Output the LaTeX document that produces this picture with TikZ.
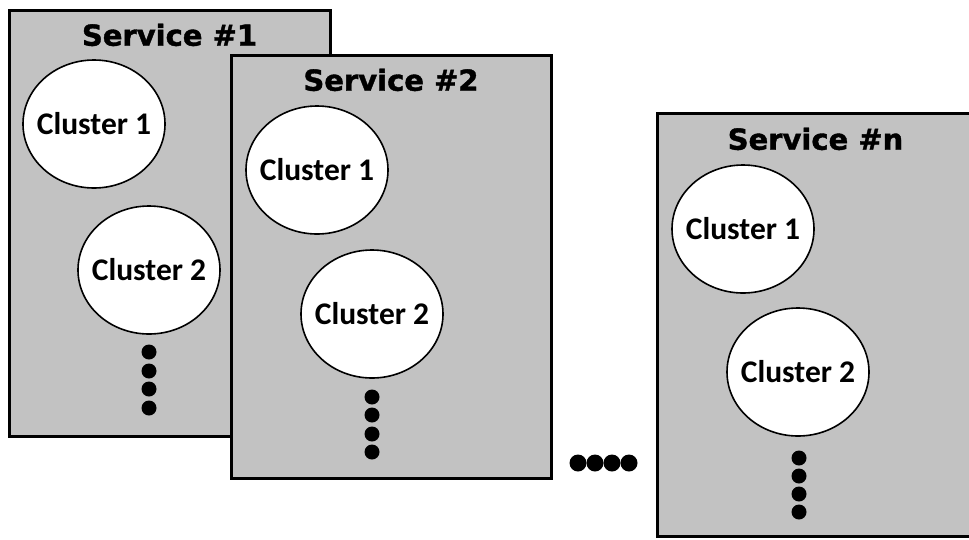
\documentclass[tikz,border=0pt]{standalone}
\usepackage{fontspec}
\usetikzlibrary{positioning, shapes.geometric}
\newfontfamily\titlefont{DejaVu Sans Bold}[FakeBold=1.3]
\newfontfamily\clusterfont{Carlito}
\definecolor{boxgray}{RGB}{194,194,194}

\tikzset{
    service/.style={draw=black, line width=3pt, fill=boxgray, inner sep=0pt},
    svctitle/.style={inner sep=0pt, font=\titlefont\fontsize{29}{32}\selectfont},
    cluster/.style={ellipse, draw=black, line width=1.6pt, fill=white, inner xsep=-12pt, inner ysep=0pt,
        minimum width=142pt, minimum height=128pt, font=\clusterfont\bfseries\fontsize{31.5}{34}\selectfont},
    dot/.style={circle, fill=black, inner sep=0pt, minimum size=15pt}
}

\begin{document}
\begin{tikzpicture}[x=1pt, y=-1pt]
    \useasboundingbox (0,0) rectangle (969,539);

    % Service #1
    \node[service, minimum width=321pt, minimum height=426pt] (svc1) at (169.5,223) {};
    \node[svctitle, below=15pt of svc1.north] (svc1title) {Service \#1};
    \node[cluster] (svc1c1) at (94,124) {Cluster 1};
    \node[cluster] (svc1c2) at (149,270) {Cluster 2};
    \foreach \i/\y in {1/352, 2/371, 3/389, 4/408}
        \node[dot] (svc1d\i) at (149,\y) {};

    % Service #2
    \node[service, minimum width=320pt, minimum height=423pt] (svc2) at (391,266.5) {};
    \node[svctitle, below=15pt of svc2.north] (svc2title) {Service \#2};
    \node[cluster] (svc2c1) at (317,170) {Cluster 1};
    \node[cluster] (svc2c2) at (372,314) {Cluster 2};
    \foreach \i/\y in {1/397, 2/415, 3/434, 4/452}
        \node[dot] (svc2d\i) at (372,\y) {};

    % dots between the services
    \foreach \i/\x in {1/578, 2/595, 3/612, 4/629}
        \node[dot, minimum size=17pt] (gapd\i) at (\x,463) {};

    % Service #n (runs off the right edge)
    \node[service, minimum width=333pt, minimum height=423pt] (svcn) at (823.5,324.5) {};
    \node[svctitle, below=16pt of svcn.north, xshift=-8pt] (svcntitle) {Service \#n};
    \node[cluster] (svcnc1) at (743,229) {Cluster 1};
    \node[cluster] (svcnc2) at (798,372) {Cluster 2};
    \foreach \i/\y in {1/458, 2/476, 3/494, 4/512}
        \node[dot] (svcnd\i) at (799,\y) {};
\end{tikzpicture}
\end{document}
